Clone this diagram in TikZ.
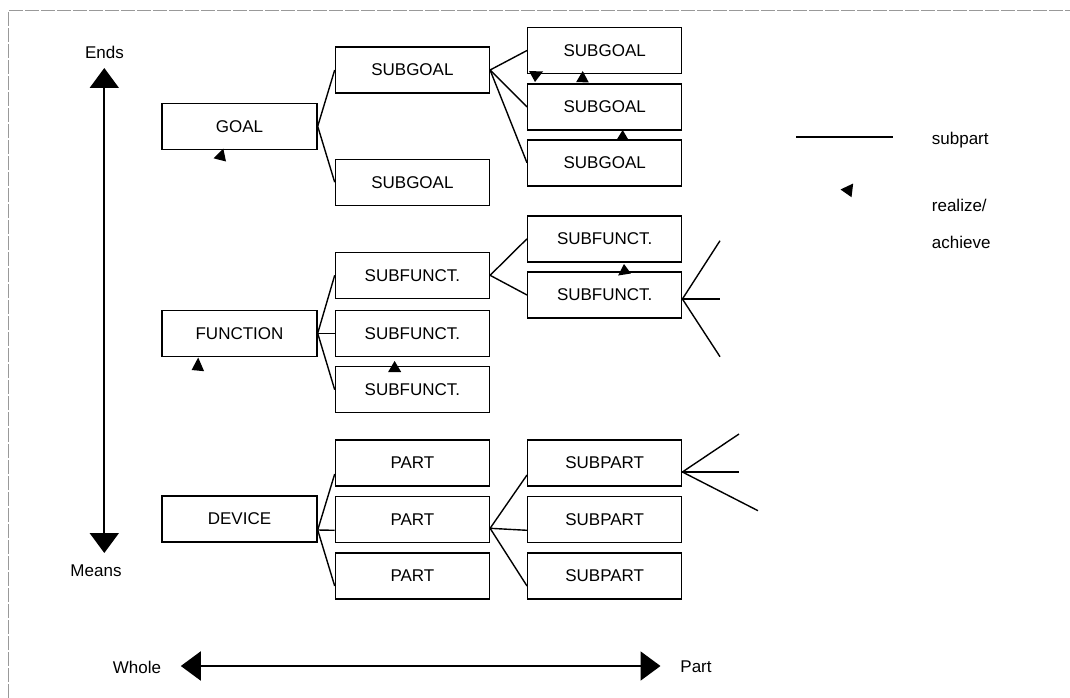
\documentclass[tikz,border=0pt]{standalone}
\usepackage{fontspec}
\setmainfont{Liberation Sans}
\usetikzlibrary{arrows.meta}
\begin{document}
\begin{tikzpicture}[x=1pt,y=-1pt,
  box/.style={draw=black,line width=1.4pt,minimum width=154pt,minimum height=46pt,inner sep=0pt,
    font=\fontsize{17}{20}\selectfont},
  wbox/.style={box,minimum width=155pt},
  lbl/.style={inner sep=0pt,font=\fontsize{17}{20}\selectfont},
  sub/.style={line width=1.4pt,black},
  tri/.style={fill=black},
  bigarrow/.style={line width=2pt,{Triangle[width=29pt,length=20pt]}-{Triangle[width=29pt,length=20pt]}},
  frame/.style={gray!80,line width=1pt,dash pattern=on 14pt off 2pt}]
\useasboundingbox (0,0) rectangle (1070,698);
\fill[white] (0,0) rectangle (1070,698);
% frame
\draw[frame] (8.3,698) -- (8.3,10.7) -- (1070,10.7);

% Ends / Means axis
\node[lbl] (ends) at (104.5,52) {Ends};
\node[lbl] (means) at (96,571) {Means};
\coordinate (vt) at (104.3,68);
\coordinate (vb) at (104.3,553);
\draw[bigarrow] (vt) -- (vb);

% Whole / Part axis
\node[lbl] (whole) at (137,667) {Whole};
\node[lbl] (part) at (696,667) {Part};
\coordinate (hl) at (180.8,666);
\coordinate (hr) at (660.5,666);
\draw[bigarrow] (hl) -- (hr);

% GOAL group
\node[wbox] (goal) at (239.5,126.3) {GOAL};
\node[box] (sg1) at (412.4,70) {SUBGOAL};
\node[box] (sg2) at (412.4,182.2) {SUBGOAL};
\node[box] (sg3) at (604.7,50.5) {SUBGOAL};
\node[box] (sg4) at (604.7,107) {SUBGOAL};
\node[box] (sg5) at (604.7,162.8) {SUBGOAL};
\draw[sub] (goal.east) -- (sg1.west);
\draw[sub] (goal.east) -- (sg2.west);
\draw[sub] (sg1.east) -- (sg3.west);
\draw[sub] (sg1.east) -- (sg4.west);
\draw[sub] (sg1.east) -- (sg5.west);

% FUNCTION group
\node[wbox] (func) at (239.5,333.3) {FUNCTION};
\node[box] (sf1) at (412.4,275.3) {SUBFUNCT.};
\node[box] (sf2) at (412.4,333.3) {SUBFUNCT.};
\node[box] (sf3) at (412.4,389.7) {SUBFUNCT.};
\node[box] (sf4) at (604.7,238.8) {SUBFUNCT.};
\node[box] (sf5) at (604.7,295) {SUBFUNCT.};
\draw[sub] (func.east) -- (sf1.west);
\draw[sub] (func.east) -- (sf2.west);
\draw[sub] (func.east) -- (sf3.west);
\draw[sub] (sf1.east) -- (sf4.west);
\draw[sub] (sf1.east) -- (sf5.west);
\coordinate (fa) at (720,240.7);
\coordinate (fb) at (720,299);
\coordinate (fc) at (720,356.7);
\draw[sub] (fa) -- ([yshift=-4pt]sf5.east) -- (fc);
\draw[sub] ([yshift=-4pt]sf5.east) -- (fb);

% DEVICE group
\node[wbox] (dev) at (239.5,519) {DEVICE};
\node[box] (p1) at (412.4,463) {PART};
\node[box] (p2) at (412.4,519.3) {PART};
\node[box] (p3) at (412.4,576) {PART};
\node[box] (sp1) at (604.7,463) {SUBPART};
\node[box] (sp2) at (604.7,519.3) {SUBPART};
\node[box] (sp3) at (604.7,576) {SUBPART};
\draw[sub] ([yshift=-11pt]dev.east) -- ([yshift=-11pt]p1.west);
\draw[sub] ([yshift=-11pt]dev.east) -- ([yshift=-11pt]p2.west);
\draw[sub] ([yshift=-11pt]dev.east) -- ([yshift=-10pt]p3.west);
\draw[sub] ([yshift=-9pt]p2.east) -- ([yshift=-12pt]sp1.west);
\draw[sub] ([yshift=-9pt]p2.east) -- ([yshift=-11pt]sp2.west);
\draw[sub] ([yshift=-9pt]p2.east) -- ([yshift=-10pt]sp3.west);
\coordinate (ga) at (739,434);
\coordinate (gb) at (739,472);
\coordinate (gc) at (758,510.7);
\draw[sub] (ga) -- ([yshift=-9pt]sp1.east) -- (gc);
\draw[sub] ([yshift=-9pt]sp1.east) -- (gb);

% realize / achieve arrowheads
\fill[tri] (223.3,148.5) -- (213.5,158.3) -- (226,161.5) -- cycle;
\fill[tri] (529,71) -- (543,71.5) -- (535,82) -- cycle;
\fill[tri] (582.7,71) -- (576.2,82) -- (588.8,82.5) -- cycle;
\fill[tri] (622.7,130) -- (616.2,140.5) -- (628.8,140.5) -- cycle;
\fill[tri] (198.2,357.5) -- (191.6,370) -- (204.1,371.2) -- cycle;
\fill[tri] (394.6,361) -- (388.1,372) -- (401.2,372) -- cycle;
\fill[tri] (624,264) -- (618.1,275.5) -- (630.9,273.5) -- cycle;

% legend
\coordinate (l1) at (796,137);
\coordinate (l2) at (893,137);
\draw[sub] (l1) -- (l2);
\fill[tri] (840.5,189.5) -- (853.2,183.5) -- (851.5,197.2) -- cycle;
\node[lbl,anchor=west] (lsub) at (931.7,140) {subpart};
\node[lbl,anchor=west] (lrea) at (931.7,205) {realize/};
\node[lbl,anchor=west] (lach) at (931.7,242) {achieve};
\end{tikzpicture}
\end{document}
